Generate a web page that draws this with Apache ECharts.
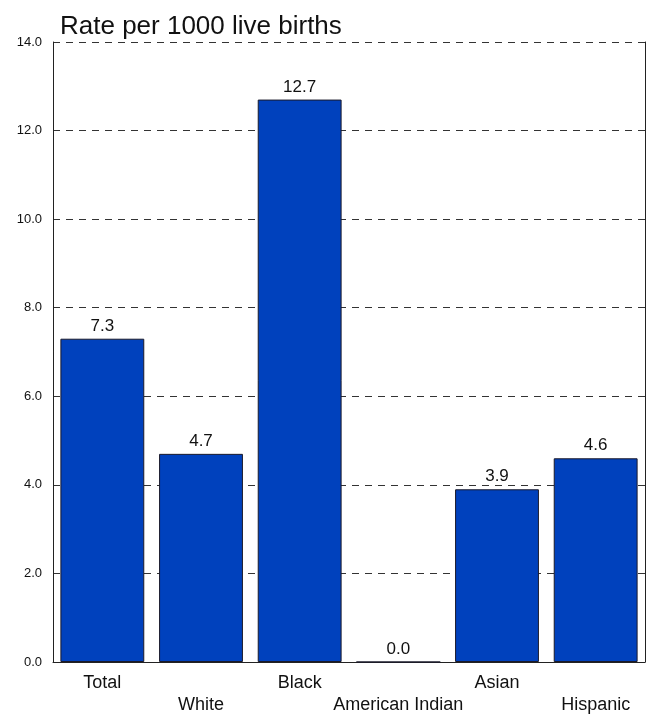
<!DOCTYPE html>
<html><head><meta charset="utf-8">
<script src="https://cdn.jsdelivr.net/npm/echarts@6/dist/echarts.min.js"></script>
<style>html,body{margin:0;padding:0;background:#fff}#c{width:650px;height:715px}</style>
</head><body><div id="c"></div>
<script>
const categories = ['Total','White','Black','American Indian','Asian','Hispanic'];
const rates = [7.3, 4.7, 12.7, 0.0, 3.9, 4.6];
const yTicks = [0, 2, 4, 6, 8, 10, 12, 14];
const titleText = 'Rate per 1000 live births';

const chart = echarts.init(document.getElementById('c'));
const F = 'Liberation Sans, Arial, sans-serif';
chart.setOption({
  animation: false,
  title: { text: titleText, left: 55, top: 9, textStyle: { fontFamily: F, fontSize: 26, fontWeight: 'normal', color: '#111' } },
  grid: { left: 53, right: 5, top: 42, bottom: 53, outerBoundsMode: 'none', containLabel: false },
  xAxis: {
    type: 'category', data: categories,
    axisLine: { lineStyle: { color: '#222', width: 1 } },
    axisTick: { show: false },
    axisLabel: {
      interval: 0, fontFamily: F, fontSize: 18, color: '#111', margin: 10,
      formatter: (v, i) => (i % 2 === 1 ? '\n' + v : v), lineHeight: 22
    }
  },
  yAxis: [{
    type: 'value', min: yTicks[0], max: yTicks[yTicks.length - 1], interval: 2,
    axisLine: { show: true, lineStyle: { color: '#222' } },
    axisTick: { show: false },
    axisLabel: { fontFamily: F, fontSize: 13, color: '#111', margin: 11, formatter: v => v.toFixed(1) },
    splitLine: { show: true, lineStyle: { color: '#333', type: [7, 6], width: 1 } }
  }, {
    type: 'value', min: yTicks[0], max: yTicks[yTicks.length - 1], interval: 2, position: 'right',
    axisLine: { show: true, lineStyle: { color: '#222' } },
    axisTick: { show: false }, axisLabel: { show: false }, splitLine: { show: false }
  }],
  series: [{
    type: 'bar', data: rates, barWidth: '85%',
    itemStyle: { color: '#0041bd', borderColor: '#1a1a2a', borderWidth: 1 },
    label: { show: true, position: 'top', distance: 4, fontFamily: F, fontSize: 17, color: '#111', formatter: p => p.value.toFixed(1) }
  }]
});
</script></body></html>
